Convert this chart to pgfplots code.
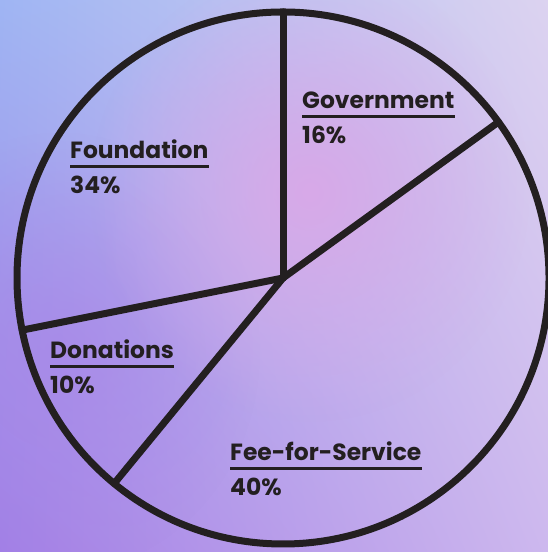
\documentclass[border=0pt]{standalone}
\usepackage{fontspec}
\setmainfont{Poppins}
\usepackage{pgfplots}
\pgfplotsset{compat=1.18}
\usetikzlibrary{fadings,shadings}

\definecolor{ink}{HTML}{231F20}
\definecolor{bgtl}{HTML}{9FB5F3}
\definecolor{bgtr}{HTML}{DCD3F0}
\definecolor{bgbl}{HTML}{A27FE6}
\definecolor{bgbr}{HTML}{CDB8EE}
\definecolor{glow}{HTML}{D8A9E8}
\definecolor{violet}{HTML}{A983E6}

\tikzfading[name=softglow, inner color=transparent!0, outer color=transparent!100]

% label: name and share, the name underlined; position = (x, baseline y) relative to the centre
\newcommand{\pielabel}[5]{%
  \node[anchor=base west, inner sep=0pt, font=\bfseries\fontsize{23.5}{27}\selectfont, text=ink] (lab#1) at (axis cs:#2,#3) {#4};
  \draw[ink, line width=2.5bp] ([yshift=-7.5bp]lab#1.base west) -- ([yshift=-7.5bp]lab#1.base east);
  \node[anchor=base west, inner sep=0pt, font=\bfseries\fontsize{23.5}{27}\selectfont, text=ink] at (axis cs:#2,#3-35) {#5};
}

\begin{document}
\begin{tikzpicture}[x=1bp, y=1bp]
  % background wash
  \shade[upper left=bgtl, upper right=bgtr, lower left=bgbl, lower right=bgbr]
    (0,0) rectangle (548,552);
  \fill[violet, path fading=softglow, opacity=0.6] (60,200) ellipse (200 and 220);
  \fill[glow, path fading=softglow] (310,360) ellipse (220 and 230);

  \begin{axis}[
      hide axis,
      scale only axis,
      width=548bp, height=552bp,
      xmin=-283, xmax=265,
      ymin=-274, ymax=278,
      clip=false]

    % outline of the pie
    \draw[ink, line width=7bp] (axis cs:0,0) circle[radius=266];

    % dividing lines (polar angle of each boundary)
    \addplot[ink, line width=7bp, data cs=polar, line cap=round] coordinates {(90,0) (90,266)};
    \addplot[ink, line width=7bp, data cs=polar, line cap=round] coordinates {(35.9,0) (35.9,266)};
    \addplot[ink, line width=7bp, data cs=polar, line cap=round] coordinates {(230.6,0) (230.6,266)};
    \addplot[ink, line width=7bp, data cs=polar, line cap=round] coordinates {(191.3,0) (191.3,266)};

    \pielabel{gov}{19}{169}{Government}{16\%}
    \pielabel{fnd}{-213}{119}{Foundation}{34\%}
    \pielabel{don}{-233}{-81}{Donations}{10\%}
    \pielabel{fee}{-53}{-183}{Fee-for-Service}{40\%}
  \end{axis}
  \pgfresetboundingbox
  \useasboundingbox (0,0) rectangle (548,552);
\end{tikzpicture}
\end{document}
